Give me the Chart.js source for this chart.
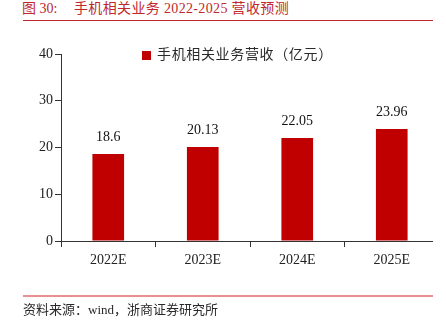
<!DOCTYPE html>
<html><head><meta charset="utf-8">
<script src="https://cdn.jsdelivr.net/npm/chart.js@4"></script>
<style>
html,body{margin:0;padding:0;background:#fff;width:446px;height:330px;overflow:hidden;}
.t{position:absolute;top:0;height:18px;line-height:18px;font-size:14px;font-family:"Liberation Serif","Noto Sans CJK SC",serif;color:#c0282d;white-space:pre;}
#tline{position:absolute;left:23px;top:20px;width:410px;height:1px;background:#c0282d;}
#wrap{position:absolute;left:0;top:0;width:433px;height:330px;overflow:hidden;}
#legend{position:absolute;left:142px;top:46px;height:18px;line-height:18px;font-size:14px;font-family:"Liberation Serif","Noto Sans CJK SC",serif;color:#2a2a2a;white-space:nowrap;letter-spacing:0.65px;}
#legend i{position:absolute;left:0;top:5px;width:9px;height:9px;background:#c00000;}
#legend span{position:absolute;left:15px;top:0;}
#fline{position:absolute;left:23px;top:295px;width:410px;height:2px;background:#e8908f;}
#src{position:absolute;left:23px;top:301px;height:18px;line-height:18px;font-size:13px;font-family:"Liberation Serif","Noto Sans CJK SC",serif;color:#2a2a2a;white-space:pre;}
</style></head>
<body>
<div class="t" style="left:22px">图 30:</div>
<div class="t" style="left:74px;letter-spacing:0.35px">手机相关业务 2022-2025 营收预测</div>
<div id="tline"></div>
<div id="wrap"><canvas id="c" width="446" height="330"></canvas></div>
<div id="legend"><i></i><span id="legtext"></span></div>
<div id="fline"></div>
<div id="src">资料来源：wind，浙商证券研究所</div>
<script>
const categories = ['2022E', '2023E', '2024E', '2025E'];
const revenue = [18.6, 20.13, 22.05, 23.96];
const yTicks = [0, 10, 20, 30, 40];
const seriesName = '手机相关业务营收（亿元）';

document.getElementById('legtext').textContent = seriesName;

const valueLabels = {
  id: 'valueLabels',
  afterDatasetsDraw(chart) {
    const ctx = chart.ctx;
    const meta = chart.getDatasetMeta(0);
    ctx.save();
    ctx.font = '14px "Liberation Serif"';
    ctx.fillStyle = '#111';
    ctx.textAlign = 'center';
    ctx.textBaseline = 'middle';
    meta.data.forEach((bar, i) => {
      ctx.fillText(String(revenue[i]), bar.x, bar.y - 17);
    });
    ctx.restore();
  }
};

new Chart(document.getElementById('c'), {
  type: 'bar',
  data: {
    labels: categories,
    datasets: [{
      label: seriesName,
      data: revenue,
      backgroundColor: '#c00000',
      borderWidth: 0,
      barPercentage: 0.335,
      categoryPercentage: 1.0
    }]
  },
  options: {
    responsive: false,
    animation: false,
    layout: { padding: { top: 54, right: 7, bottom: 0, left: 0 } },
    plugins: { legend: { display: false }, tooltip: { enabled: false } },
    scales: {
      x: {
        grid: { drawOnChartArea: false, drawTicks: true, tickLength: 6, color: '#333', offset: true },
        border: { display: true, color: '#333', width: 1 },
        ticks: { color: '#222', padding: 5, font: { family: '"Liberation Serif"', size: 14 } },
        afterFit(s) { s.height = 89; }
      },
      y: {
        min: 0, max: 40,
        afterBuildTicks(s) { s.ticks = yTicks.map(v => ({ value: v })); },
        grid: { drawOnChartArea: false, drawTicks: true, tickLength: 6, color: '#333' },
        border: { display: true, color: '#333', width: 1 },
        ticks: { color: '#222', padding: 2, font: { family: '"Liberation Serif"', size: 14 } },
        afterFit(s) { s.width = 61; }
      }
    }
  },
  plugins: [valueLabels]
});
</script>
</body></html>
